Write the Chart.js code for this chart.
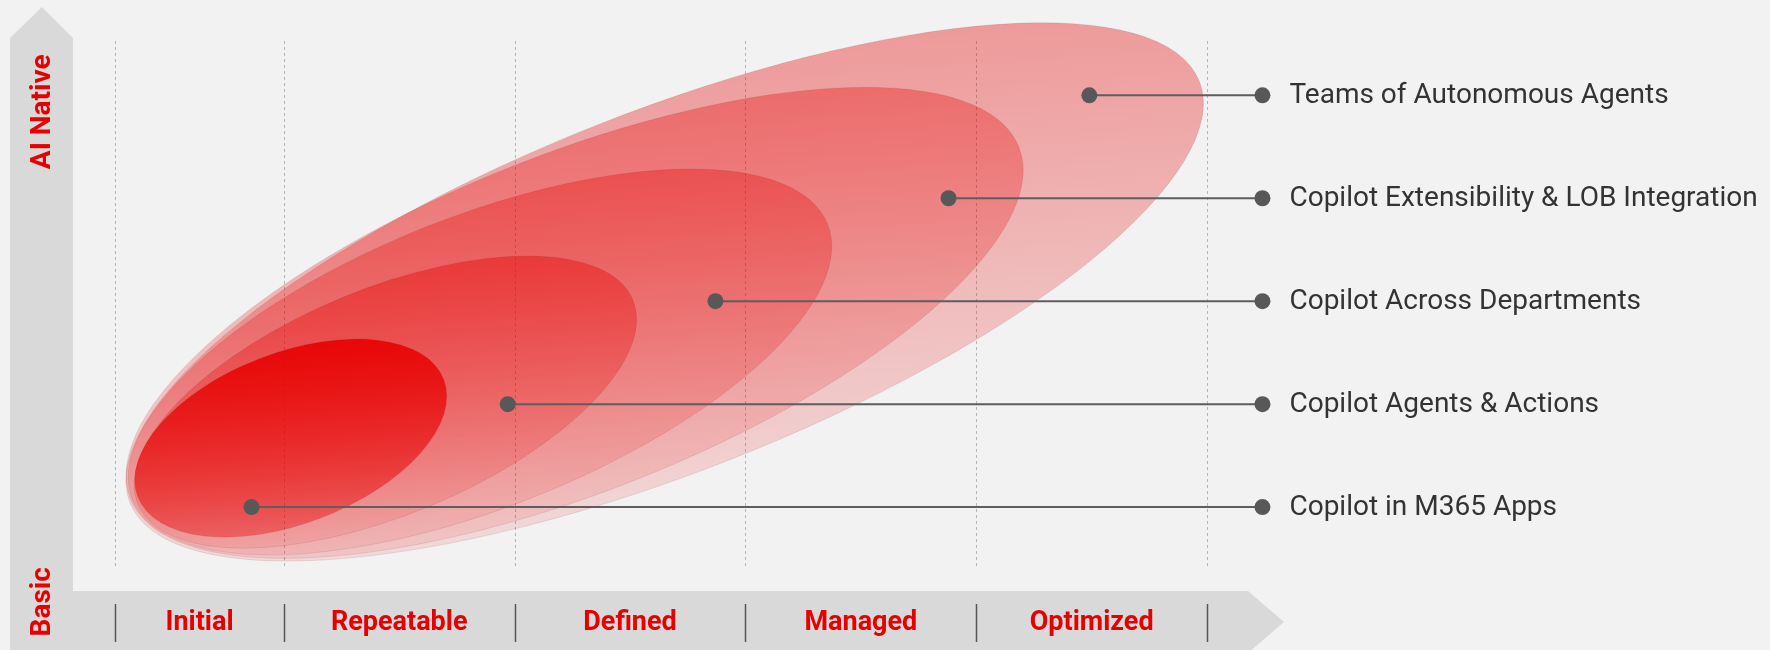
<!DOCTYPE html>
<html>
<head>
<meta charset="utf-8">
<script src="https://cdn.jsdelivr.net/npm/chart.js@4.4.1/dist/chart.umd.min.js"></script>
<style>
  html, body { margin: 0; padding: 0; background: #f2f2f2; }
  #wrap { width: 1770px; height: 650px; }
</style>
</head>
<body>
<div id="wrap"><canvas id="maturityChart" width="1770" height="650"></canvas></div>
<script>
// maturity stages along the bottom axis
const stages = ["Initial", "Repeatable", "Defined", "Managed", "Optimized"];
const stageEdges = [0.27, 1, 2, 3, 4, 5];

// level labels on the vertical axis
const levelNames = ["Basic", "AI Native"];
const levelPos = [0.08, 4.84];

// capabilities (stage position, level)
const capabilities = [
    "Copilot in M365 Apps",
    "Copilot Agents & Actions",
    "Copilot Across Departments",
    "Copilot Extensibility & LOB Integration",
    "Teams of Autonomous Agents"
];
const capStage = [0.86, 1.97, 2.87, 3.88, 4.49];
const capLevel = [1, 2, 3, 4, 5];
const leaderEnd = 5.24;

// the nested zones, smallest first
const zoneX = [1.03, 1.44, 1.85, 2.26, 2.65];
const zoneY = [1.67, 2.02, 2.41, 2.79, 3.09];
const zoneRx = [0.71, 1.16, 1.62, 2.07, 2.49];
const zoneRy = [0.37, 0.49, 0.63, 0.73, 0.78];
const zoneTilt = [21, 22.4, 21.6, 21.6, 21.5];
const zoneAlphaTop = [0.92, 0.42, 0.34, 0.34, 0.38];
const zoneAlphaBottom = [0.36, 0.07, 0.07, 0.08, 0.09];

const RED = "#e60000";

const backdrop = {
    id: "backdrop",
    beforeDraw(chart) {
        const { ctx, chartArea, scales } = chart;
        const x = scales.x, y = scales.y;
        ctx.save();
        ctx.fillStyle = "#f2f2f2";
        ctx.fillRect(0, 0, chart.width, chart.height);

        // vertical arrow band
        const l = chartArea.left;
        ctx.fillStyle = "#d9d9d9";
        ctx.beginPath();
        ctx.moveTo(l - 43, chart.height);
        ctx.lineTo(l - 43, 38);
        ctx.lineTo(l - 11, 7);
        ctx.lineTo(l + 20, 38);
        ctx.lineTo(l + 20, chart.height);
        ctx.closePath();
        ctx.fill();

        // horizontal arrow band
        const top = chartArea.bottom - 19;
        const tip = chartArea.right;
        ctx.beginPath();
        ctx.moveTo(l - 43, top);
        ctx.lineTo(tip - 36, top);
        ctx.lineTo(tip, top + 31);
        ctx.lineTo(tip - 36, top + 62);
        ctx.lineTo(l - 43, top + 62);
        ctx.closePath();
        ctx.fill();

        // stage separators
        ctx.strokeStyle = "#555555";
        ctx.lineWidth = 1.5;
        stageEdges.forEach(e => {
            const px = Math.round(x.getPixelForValue(e)) + 0.5;
            ctx.beginPath();
            ctx.moveTo(px, chartArea.bottom - 6);
            ctx.lineTo(px, chartArea.bottom + 32);
            ctx.stroke();
        });

        // stage names
        ctx.fillStyle = RED;
        ctx.font = "bold 27px Roboto";
        ctx.textAlign = "center";
        ctx.textBaseline = "middle";
        stages.forEach((s, i) => {
            const mid = (stageEdges[i] + stageEdges[i + 1]) / 2;
            ctx.fillText(s, x.getPixelForValue(mid), chartArea.bottom + 13);
        });

        // level names
        ctx.font = "bold 28px Roboto";
        levelNames.forEach((s, i) => {
            ctx.save();
            ctx.translate(l - 11, y.getPixelForValue(levelPos[i]));
            ctx.rotate(-Math.PI / 2);
            ctx.fillText(s, 0, 1);
            ctx.restore();
        });

        // dashed grid lines
        ctx.strokeStyle = "#b5b5b5";
        ctx.lineWidth = 1;
        ctx.setLineDash([3, 3]);
        stageEdges.forEach(e => {
            const px = Math.round(x.getPixelForValue(e)) + 0.5;
            ctx.beginPath();
            ctx.moveTo(px, 41);
            ctx.lineTo(px, chartArea.bottom - 43);
            ctx.stroke();
        });
        ctx.restore();
    },
    beforeDatasetsDraw(chart) {
        const { ctx, scales } = chart;
        const x = scales.x, y = scales.y;
        const unit = x.getPixelForValue(1) - x.getPixelForValue(0);
        ctx.save();
        for (let i = zoneX.length - 1; i >= 0; i--) {
            const cx = x.getPixelForValue(zoneX[i]);
            const cy = y.getPixelForValue(zoneY[i]);
            const a = zoneRx[i] * unit, b = zoneRy[i] * unit;
            const t = zoneTilt[i] * Math.PI / 180;
            const h = Math.sqrt(a * a * Math.sin(t) ** 2 + b * b * Math.cos(t) ** 2);
            const g = ctx.createLinearGradient(cx, cy - h, cx + h * 0.15, cy + h);
            g.addColorStop(0, "rgba(232,0,0," + zoneAlphaTop[i] + ")");
            g.addColorStop(1, "rgba(232,0,0," + zoneAlphaBottom[i] + ")");
            ctx.beginPath();
            ctx.ellipse(cx, cy, a, b, -t, 0, Math.PI * 2);
            ctx.fillStyle = g;
            ctx.fill();
            ctx.strokeStyle = "rgba(120,40,40,0.12)";
            ctx.lineWidth = 1;
            ctx.stroke();
        }
        ctx.restore();
    },
    afterDatasetsDraw(chart) {
        const { ctx, scales } = chart;
        ctx.save();
        ctx.fillStyle = "#333333";
        ctx.font = "28px Roboto";
        ctx.textAlign = "left";
        ctx.textBaseline = "middle";
        capabilities.forEach((c, i) => {
            ctx.fillText(c, scales.x.getPixelForValue(leaderEnd) + 27, scales.y.getPixelForValue(capLevel[i]) + 1);
        });
        ctx.restore();
    }
};

const datasets = capabilities.map((c, i) => ({
    label: c,
    data: [{ x: capStage[i], y: capLevel[i] }, { x: leaderEnd, y: capLevel[i] }],
    showLine: true,
    borderColor: "#5e5e5e",
    borderWidth: 2,
    pointRadius: 8,
    pointHoverRadius: 8,
    pointBackgroundColor: "#585858",
    pointBorderWidth: 0
}));

new Chart(document.getElementById("maturityChart"), {
    type: "scatter",
    data: { datasets: datasets },
    options: {
        responsive: false,
        animation: false,
        layout: { padding: { left: 53, right: 486, top: 13, bottom: 40 } },
        plugins: { legend: { display: false }, tooltip: { enabled: false } },
        scales: {
            x: { type: "linear", min: 0, max: 16 / 3, display: false },
            y: { type: "linear", min: 0, max: 5.8, display: false }
        }
    },
    plugins: [backdrop]
});
</script>
</body>
</html>
